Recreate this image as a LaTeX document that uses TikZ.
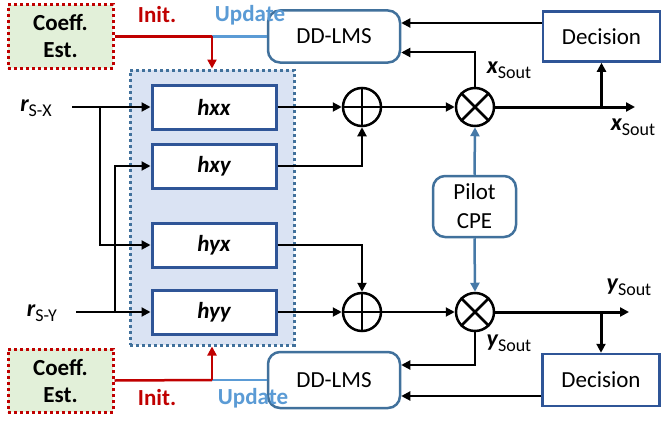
\documentclass[tikz,border=0pt]{standalone}
\usepackage{fontspec}
\setmainfont{Carlito}
\usetikzlibrary{arrows.meta,positioning,calc}

\definecolor{initred}{HTML}{C00000}
\definecolor{updblue}{HTML}{5B9BD5}
\definecolor{boxblue}{HTML}{2F5597}
\definecolor{rndblue}{HTML}{41719C}
\definecolor{regfill}{HTML}{DAE3F3}
\definecolor{estfill}{HTML}{E2F0D9}

\newcommand{\sig}[2]{{\fontsize{24}{24}\selectfont\bfseries\itshape #1}\raisebox{-0.5ex}{\fontsize{18}{18}\selectfont #2}}

\begin{document}
\begin{tikzpicture}[x=1pt,y=-1pt,>={Triangle[length=9pt,width=9pt]},
                    every node/.style={font=\fontsize{23}{29}\selectfont,align=center,inner sep=0pt},
                    filt/.style={draw=boxblue,line width=3pt,fill=white,minimum width=124,minimum height=44,
                                 font=\fontsize{23}{29}\selectfont\bfseries\itshape},
                    lms/.style={draw=rndblue,line width=2.5pt,fill=white,rounded corners=12pt,minimum width=132,minimum height=52},
                    dec/.style={draw=boxblue,line width=2.5pt,fill=white,minimum width=117,minimum height=50},
                    est/.style={draw=initred,fill=estfill,line width=3pt,dash pattern=on 3pt off 3pt,minimum width=105,minimum height=63,
                                font=\fontsize{23}{27}\selectfont\bfseries},
                    region/.style={draw=rndblue,fill=regfill,line width=3pt,dash pattern=on 3pt off 3pt,minimum width=164,minimum height=275},
                    sum/.style={circle,draw,line width=2.5pt,fill=white,minimum size=38},
                    sig/.style={line width=2pt},
                    outln/.style={line width=3pt},
                    initln/.style={draw=initred,line width=2.5pt},
                    updln/.style={draw=updblue,line width=2.5pt},
                    lbl/.style={font=\fontsize{23}{27}\selectfont\bfseries}]
  \useasboundingbox (0,0) rectangle (663,420);
  \node[region] (reg) at (212,207.5) {};

  \node[est] (estT) at (60.5,36.5) {Coeff.\\Est.};
  \node[est] (estB) at (60.5,380.5) {Coeff.\\Est.};
  \node[lms] (lmsT) at (334,36.5) {DD-LMS};
  \node[lms,minimum height=56] (lmsB) at (334,380) {DD-LMS};
  \node[dec] (decT) at (601.5,36.5) {Decision};
  \node[dec,minimum height=52] (decB) at (601,380) {Decision};
  \node[lms,minimum width=83,minimum height=61,font=\fontsize{23}{29}\selectfont] (cpe) at (474.5,206.5) {Pilot\\CPE};

  \node[filt] (hxx) at (214,107) {hxx};
  \node[filt] (hxy) at (214,166) {hxy};
  \node[filt] (hyx) at (214,245) {hyx};
  \node[filt] (hyy) at (214,312) {hyy};

  \node[sum] (addT) at (362,107) {};
  \node[sum] (mulT) at (475,107) {};
  \node[sum] (addB) at (362,312) {};
  \node[sum] (mulB) at (475,312) {};
  \draw[line width=2.5pt] (addT.north) -- (addT.south) (addT.west) -- (addT.east);
  \draw[line width=2.5pt] (addB.north) -- (addB.south) (addB.west) -- (addB.east);
  \draw[line width=2.5pt] (mulT.north west) -- (mulT.south east) (mulT.north east) -- (mulT.south west);
  \draw[line width=2.5pt] (mulB.north west) -- (mulB.south east) (mulB.north east) -- (mulB.south west);

  % inputs
  \node (rX) at (36,108) {\sig{r}{S-X}};
  \node (rY) at (42,313) {\sig{r}{S-Y}};
  \coordinate (inX) at (72,107);
  \coordinate (inY) at (76,312);
  \coordinate (brX) at (100,107);
  \coordinate (brY) at (115,312);
  \draw[sig,->] (inX) -- (hxx.west);
  \draw[sig,->] (brX) |- (hyx.west);
  \draw[sig,->] (inY) -- (hyy.west);
  \draw[sig,->] (brY) |- (hxy.west);

  % filters to adders
  \draw[sig,->] (hxx.east) -- (addT.west);
  \draw[sig,->] (hxy.east) -| (addT.south);
  \draw[sig,->] (hyx.east) -| (addB.north);
  \draw[sig,->] (hyy.east) -- (addB.west);
  \draw[sig,->] (addT.east) -- (mulT.west);
  \draw[sig,->] (addB.east) -- (mulB.west);

  % outputs
  \coordinate (outX) at (635,107);
  \coordinate (outY) at (629,312);
  \draw[outln,->] (mulT.east) -- (outX);
  \draw[outln,->] (mulB.east) -- (outY);
  \draw[outln,->] (decT.south |- mulT.east) -- (decT.south);
  \draw[outln,->] (decB.north |- mulB.east) -- (decB.north);

  % feedback to DD-LMS
  \draw[sig,->] ($(decT.west)+(0,-13.5)$) -- ($(lmsT.east)+(0,-13.5)$);
  \draw[sig,->] (mulT.north) |- ($(lmsT.east)+(0,16)$);
  \draw[sig,->] ($(decB.west)+(0,16)$) -- ($(lmsB.east)+(0,16)$);
  \draw[sig,->] (mulB.south) |- ($(lmsB.east)+(0,-15)$);

  % pilot
  \draw[updln,draw=rndblue!80!updblue,->] (cpe.north) -- (mulT.south);
  \draw[updln,draw=rndblue!80!updblue,->] (cpe.south) -- (mulB.north);

  % init / update
  \coordinate (jT) at (212,36.5);
  \coordinate (jB) at (212,380);
  \draw[updln] (jT) -- (lmsT.west);
  \draw[updln] (jB) -- (lmsB.west);
  \draw[initln] (estT.east) -- (jT);
  \draw[initln] (estB.east) -- (jB);
  \draw[initln,->] (jT) -- (jT |- reg.north);
  \draw[initln,->] (jB) -- (jB |- reg.south);

  \node[lbl,text=initred] (initT) at (157,15) {Init.};
  \node[lbl,text=updblue] (updT) at (250,15) {Update};
  \node[lbl,text=initred] (initB) at (157,398) {Init.};
  \node[lbl,text=updblue] (updB) at (253,398) {Update};

  \node (xo1) at (509,70) {\sig{x}{Sout}};
  \node (xo2) at (633,127) {\sig{x}{Sout}};
  \node (yo1) at (629,287) {\sig{y}{Sout}};
  \node (yo2) at (509,343) {\sig{y}{Sout}};
\end{tikzpicture}
\end{document}
